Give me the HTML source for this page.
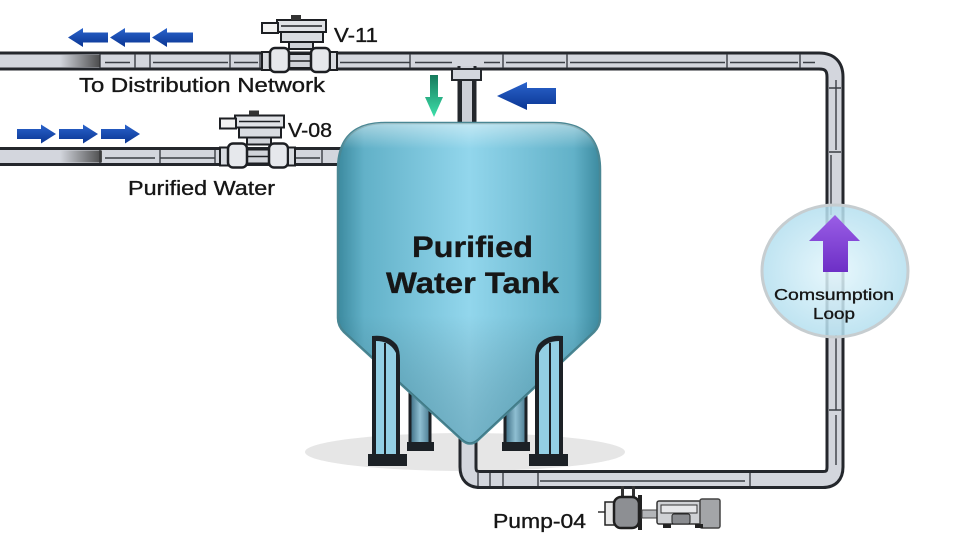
<!DOCTYPE html>
<html><head><meta charset="utf-8"><style>
html,body{margin:0;padding:0;background:#fff;}
svg{display:block;}
text{font-family:"Liberation Sans",Arial,sans-serif;fill:#161616;stroke:#161616;stroke-width:0.35;}
</style></head><body>
<svg width="960" height="548" viewBox="0 0 960 548" xmlns="http://www.w3.org/2000/svg">
<defs>
<linearGradient id="tankH" x1="0" y1="0" x2="1" y2="0">
<stop offset="0" stop-color="#3c8a9f"/><stop offset="0.1" stop-color="#62b1c8"/>
<stop offset="0.5" stop-color="#92d6ec"/><stop offset="0.9" stop-color="#62b1c8"/>
<stop offset="1" stop-color="#3c8a9f"/></linearGradient>
<linearGradient id="tankV" x1="0" y1="0" x2="0" y2="1">
<stop offset="0" stop-color="#ffffff" stop-opacity="0.45"/><stop offset="0.08" stop-color="#ffffff" stop-opacity="0"/>
<stop offset="0.6" stop-color="#000" stop-opacity="0"/><stop offset="1" stop-color="#1c4c5c" stop-opacity="0.25"/></linearGradient>
<linearGradient id="blueL" x1="0" y1="0" x2="0" y2="1">
<stop offset="0" stop-color="#2a63cc"/><stop offset="1" stop-color="#0a3592"/></linearGradient>
<linearGradient id="green" x1="0" y1="0" x2="0" y2="1">
<stop offset="0" stop-color="#167a5c"/><stop offset="1" stop-color="#3de0aa"/></linearGradient>
<linearGradient id="purple" x1="0" y1="0" x2="0" y2="1">
<stop offset="0" stop-color="#9a5ee6"/><stop offset="1" stop-color="#6d2fc6"/></linearGradient>
<radialGradient id="circ" cx="0.5" cy="0.5" r="0.5">
<stop offset="0" stop-color="#e4f6fc" stop-opacity="0.85"/><stop offset="1" stop-color="#b4dfef" stop-opacity="0.85"/></radialGradient>
<linearGradient id="fade" x1="0" y1="0" x2="1" y2="0">
<stop offset="0" stop-color="#333" stop-opacity="0"/><stop offset="1" stop-color="#333" stop-opacity="0.85"/></linearGradient>
<linearGradient id="bleg" x1="0" y1="0" x2="1" y2="0">
<stop offset="0" stop-color="#3a6a80"/><stop offset="0.5" stop-color="#8fbfd2"/><stop offset="1" stop-color="#4a7a90"/></linearGradient>
</defs>

<ellipse cx="465" cy="452" rx="160" ry="19" fill="#e6e6e6"/>

<rect x="410" y="370" width="20" height="74" fill="url(#bleg)" stroke="#1c2126" stroke-width="3"/>
<rect x="407" y="442" width="27" height="9" fill="#1c2126"/>
<rect x="505" y="370" width="21" height="74" fill="url(#bleg)" stroke="#1c2126" stroke-width="3"/>
<rect x="502" y="442" width="28" height="9" fill="#1c2126"/>

<path d="M0,61 L819,61 Q835,61 835,77 L835,467 Q835,479.5 823,479.5 L480,479.5 Q468,479.5 468,467 L468,425" fill="none" stroke="#24272c" stroke-width="19"/>
<path d="M0,61 L819,61 Q835,61 835,77 L835,467 Q835,479.5 823,479.5 L480,479.5 Q468,479.5 468,467 L468,425" fill="none" stroke="#d3d6dd" stroke-width="13"/>
<path d="M467,66 L467,128" stroke="#24272c" stroke-width="19"/>
<path d="M467,66 L467,128" stroke="#cdd0d7" stroke-width="13"/>
<rect x="452" y="69" width="29" height="11" fill="#d3d6dd" stroke="#24272c" stroke-width="2"/>
<line x1="461" y1="80" x2="461" y2="125" stroke="#24272c" stroke-width="2"/>
<line x1="473" y1="80" x2="473" y2="125" stroke="#24272c" stroke-width="2"/>
<path d="M0,156.5 L345,156.5" stroke="#24272c" stroke-width="19"/>
<path d="M0,156.5 L345,156.5" stroke="#d3d6dd" stroke-width="13"/>

<g stroke="#3a3e45" stroke-width="1.4" fill="none">
<path d="M105,62.5H130M153,62.5H228M234,62.5H258M340,62.5H410M415,62.5H452M484,62.5H500M506,62.5H565M570,62.5H725M730,62.5H798M803,62.5H815"/>
<path d="M100,54V68M135,54V68M150,54V68M230,54V68M260,54V68M410,54V68M503,54V68M567,54V68M727,54V68M800,54V68"/>
<path d="M105,158H155M160,158H215M290,158H320"/>
<path d="M100,150V163M160,150V163M215,150V163M322,150V163"/>
<path d="M836,80V150M831,155V215M836,335V410M836,415V465"/>
<path d="M829,88H841M829,152H841M829,410H841"/>
<path d="M540,481H745M478,473V486M490,473V486M503,473V486M538,473V486M750,473V486"/>
</g>
<rect x="60" y="55" width="40" height="12" fill="url(#fade)"/>
<rect x="60" y="150.5" width="42" height="12" fill="url(#fade)"/>

<path d="M338,318 L338,170 Q338,123 385,123 L553,123 Q600,123 600,170 L600,318 Q600,326 594,332 L478,440 Q470,447 462,440 L344,332 Q338,326 338,318 Z" fill="url(#tankH)" stroke="#4a8794" stroke-width="2.5"/>
<path d="M338,318 L338,170 Q338,123 385,123 L553,123 Q600,123 600,170 L600,318 Q600,326 594,332 L478,440 Q470,447 462,440 L344,332 Q338,326 338,318 Z" fill="url(#tankV)"/>

<path d="M372,458 L372,336 Q388,334 397,345 Q400,350 400,360 L400,458 Z" fill="#1c2126"/>
<path d="M376,456 L376,341 Q390,341 396,353 L396,456 Z" fill="#93cfe4"/>
<line x1="385" y1="343" x2="385" y2="456" stroke="#1c2126" stroke-width="2"/>
<rect x="368" y="454" width="39" height="12" fill="#1c2126"/>
<path d="M563,458 L563,336 Q547,334 538,345 Q535,350 535,360 L535,458 Z" fill="#1c2126"/>
<path d="M559,456 L559,341 Q545,341 539,353 L539,456 Z" fill="#93cfe4"/>
<line x1="550" y1="343" x2="550" y2="456" stroke="#1c2126" stroke-width="2"/>
<rect x="529" y="454" width="39" height="12" fill="#1c2126"/>

<text x="412" y="257" font-size="30" font-weight="bold" textLength="121" lengthAdjust="spacingAndGlyphs">Purified</text>
<text x="386" y="293" font-size="30" font-weight="bold" textLength="173" lengthAdjust="spacingAndGlyphs">Water Tank</text>

<g id="valve">
<rect x="262" y="52" width="8" height="18" fill="#d8dbe0" stroke="#1d1f23" stroke-width="2"/>
<rect x="289" y="54" width="23" height="14" fill="#d0d3d9" stroke="#1d1f23" stroke-width="2"/>
<line x1="289" y1="61" x2="312" y2="61" stroke="#1d1f23" stroke-width="1.5"/>
<rect x="270" y="48" width="19" height="24" rx="5" fill="#e6e8ec" stroke="#1d1f23" stroke-width="2.5"/>
<rect x="311" y="48" width="19" height="24" rx="5" fill="#e6e8ec" stroke="#1d1f23" stroke-width="2.5"/>
<rect x="330" y="52" width="7" height="18" fill="#d8dbe0" stroke="#1d1f23" stroke-width="2"/>
<rect x="289" y="41" width="24" height="8" fill="#cfd2d8" stroke="#1d1f23" stroke-width="2"/>
<rect x="281" y="31" width="42" height="11" fill="#d9dce1" stroke="#1d1f23" stroke-width="2"/>
<rect x="277" y="20" width="49" height="12" fill="#e0e2e6" stroke="#1d1f23" stroke-width="2"/>
<line x1="281" y1="26" x2="322" y2="26" stroke="#1d1f23" stroke-width="1.5"/>
<rect x="262" y="23" width="16" height="10" fill="#f2f2f2" stroke="#1d1f23" stroke-width="2"/>
<rect x="291" y="15" width="10" height="5" fill="#333"/>
</g>
<use href="#valve" transform="translate(-42,95.5)"/>

<text x="334" y="42" font-size="20" textLength="44" lengthAdjust="spacingAndGlyphs">V-11</text>
<text x="79" y="92" font-size="20" textLength="246" lengthAdjust="spacingAndGlyphs">To Distribution Network</text>
<text x="288" y="137" font-size="20" textLength="44" lengthAdjust="spacingAndGlyphs">V-08</text>
<text x="128" y="195" font-size="20" textLength="147" lengthAdjust="spacingAndGlyphs">Purified Water</text>
<text x="493" y="528" font-size="20" textLength="93" lengthAdjust="spacingAndGlyphs">Pump-04</text>

<g fill="url(#blueL)">
<path d="M68,37.5 L83,28 L83,32.5 L108,32.5 L108,42.5 L83,42.5 L83,47 Z"/>
<path d="M110,37.5 L125,28 L125,32.5 L150,32.5 L150,42.5 L125,42.5 L125,47 Z"/>
<path d="M152,37.5 L167,28 L167,32.5 L193,32.5 L193,42.5 L167,42.5 L167,47 Z"/>
<path d="M56,134 L41,124.5 L41,129 L17,129 L17,139 L41,139 L41,143.5 Z"/>
<path d="M98,134 L83,124.5 L83,129 L59,129 L59,139 L83,139 L83,143.5 Z"/>
<path d="M140,134 L125,124.5 L125,129 L101,129 L101,139 L125,139 L125,143.5 Z"/>
<path d="M497,96 L527,82 L527,88 L556,88 L556,104 L527,104 L527,110 Z"/>
</g>
<path d="M430,75 L438,75 L438,97 L443,97 L434,117 L425,97 L430,97 Z" fill="url(#green)"/>

<line x1="598" y1="512" x2="606" y2="512" stroke="#333" stroke-width="1.5"/>
<rect x="605" y="502" width="10" height="23" fill="#e8e8e8" stroke="#222" stroke-width="1.5"/>
<rect x="621" y="486" width="3" height="13" fill="#333"/>
<rect x="632" y="486" width="3" height="13" fill="#333"/>
<rect x="614" y="497" width="25" height="31" rx="7" fill="#8d8f93" stroke="#1f1f1f" stroke-width="2.5"/>
<rect x="638" y="495" width="4" height="35" fill="#222"/>
<rect x="642" y="510" width="16" height="8" fill="#b3b5b8" stroke="#444" stroke-width="1"/>
<rect x="657" y="501" width="44" height="23" rx="2" fill="#cfd1d4" stroke="#333" stroke-width="1.5"/>
<rect x="661" y="505" width="36" height="8" fill="#e6e7e9" stroke="#333" stroke-width="1"/>
<rect x="672" y="514" width="18" height="10" rx="2" fill="#8a8c90" stroke="#222" stroke-width="1"/>
<rect x="700" y="499" width="20" height="29" rx="2" fill="#a3a5a8" stroke="#444" stroke-width="1.5"/>
<rect x="663" y="524" width="8" height="4" fill="#222"/>
<rect x="695" y="524" width="8" height="4" fill="#222"/>

<ellipse cx="835" cy="271" rx="73" ry="66" fill="url(#circ)" stroke="#c6cdd0" stroke-width="3"/>
<path d="M835,215 L860,241 L848,241 L848,272 L823,272 L823,241 L809,241 Z" fill="url(#purple)"/>
<text x="774" y="300" font-size="16" textLength="120" lengthAdjust="spacingAndGlyphs">Comsumption</text>
<text x="813" y="319" font-size="16" textLength="42" lengthAdjust="spacingAndGlyphs">Loop</text>
</svg>
</body></html>
